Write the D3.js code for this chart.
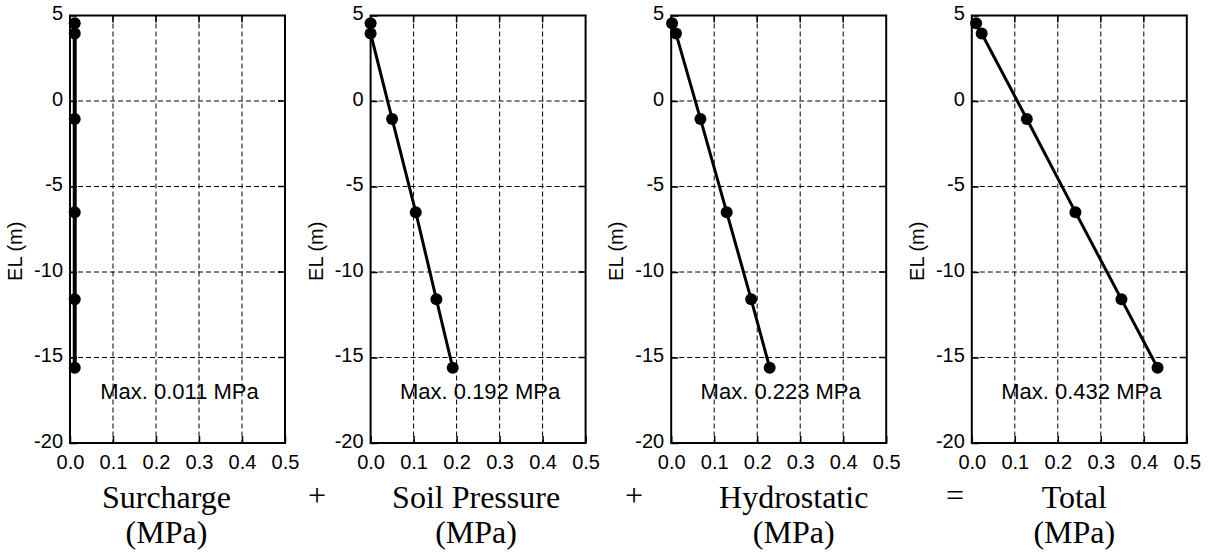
<!DOCTYPE html>
<html>
<head>
<meta charset="utf-8">
<script src="https://cdn.jsdelivr.net/npm/d3@7"></script>
<style>
  body { margin: 0; background: #fff; }
  svg { display: block; }
</style>
</head>
<body>
<svg id="chart" width="1208" height="558"></svg>
<script>
// elevations of the computed points (m)
const elevation = [4.55, 3.95, -1.05, -6.5, -11.6, -15.6];

// pressures (MPa) at each elevation
const surcharge = [0.011, 0.011, 0.011, 0.011, 0.011, 0.011];
const soilPressure = [0.0, 0.0, 0.05, 0.105, 0.153, 0.191];
const hydrostatic = [0.002, 0.011, 0.068, 0.129, 0.186, 0.229];
const total = [0.010, 0.023, 0.128, 0.241, 0.348, 0.432];

const panelNames = ["Surcharge", "Soil Pressure", "Hydrostatic", "Total"];
const maxLabels = ["Max. 0.011 MPa", "Max. 0.192 MPa", "Max. 0.223 MPa", "Max. 0.432 MPa"];
const operators = ["+", "+", "="];

const xTicks = [0, 0.1, 0.2, 0.3, 0.4, 0.5];
const yTicks = [5, 0, -5, -10, -15, -20];

const series = [surcharge, soilPressure, hydrostatic, total];

// layout
const left0 = 70, step = 300.6, plotW = 215;
const plotTop = 15.5, plotBottom = 443;
const nameShift = [-11, -2, 15, -5];
const opX = [317, 634, 955];
const fontAxis = "'Liberation Sans', Arial, sans-serif";
const fontSerif = "'Liberation Serif', 'Times New Roman', serif";

const svg = d3.select("#chart");

const y = d3.scaleLinear().domain([5, -20]).range([plotTop, plotBottom]);

series.forEach((vals, i) => {
    const x0 = left0 + i * step;
    const x = d3.scaleLinear().domain([0, 0.5]).range([x0, x0 + plotW]);
    const g = svg.append("g");

    // dashed grid
    g.selectAll("line.vgrid")
        .data(xTicks.slice(1, -1))
        .join("line")
        .attr("class", "vgrid")
        .attr("x1", d => x(d)).attr("x2", d => x(d))
        .attr("y1", plotTop).attr("y2", plotBottom)
        .attr("stroke", "#000").attr("stroke-width", 1)
        .attr("stroke-dasharray", "5,3");

    g.selectAll("line.hgrid")
        .data(yTicks.slice(1, -1))
        .join("line")
        .attr("class", "hgrid")
        .attr("x1", x0).attr("x2", x0 + plotW)
        .attr("y1", d => y(d)).attr("y2", d => y(d))
        .attr("stroke", "#000").attr("stroke-width", 1)
        .attr("stroke-dasharray", "5,3");

    // axes with inward ticks
    g.append("g")
        .attr("transform", `translate(0,${plotBottom})`)
        .call(d3.axisBottom(x).tickValues(xTicks).tickFormat(d3.format(".1f"))
            .tickSizeInner(-7).tickSizeOuter(0).tickPadding(12))
        .call(a => a.select(".domain").remove())
        .call(a => a.selectAll("line").attr("stroke-width", 1.5))
        .call(a => a.selectAll("text").attr("font-family", fontAxis)
            .attr("font-size", 20).attr("fill", "#000"));

    g.append("g")
        .attr("transform", `translate(${x0},0)`)
        .call(d3.axisLeft(y).tickValues(yTicks).tickFormat(d3.format("d"))
            .tickSizeInner(-7).tickSizeOuter(0).tickPadding(7))
        .call(a => a.select(".domain").remove())
        .call(a => a.selectAll("line").attr("stroke-width", 1.5))
        .call(a => a.selectAll("text").attr("font-family", fontAxis)
            .attr("font-size", 20).attr("fill", "#000").attr("dy", "0.2em"))
        .call(a => a.selectAll("text").text(d => d < 0 ? "-" + Math.abs(d) : d));

    // top and right inward ticks
    g.selectAll("line.tt")
        .data(xTicks.slice(1, -1))
        .join("line").attr("class", "tt")
        .attr("x1", d => x(d)).attr("x2", d => x(d))
        .attr("y1", plotTop).attr("y2", plotTop + 7)
        .attr("stroke", "#000").attr("stroke-width", 1.5);
    g.selectAll("line.rt")
        .data(yTicks.slice(1, -1))
        .join("line").attr("class", "rt")
        .attr("x1", x0 + plotW - 7).attr("x2", x0 + plotW)
        .attr("y1", d => y(d)).attr("y2", d => y(d))
        .attr("stroke", "#000").attr("stroke-width", 1.5);

    // frame
    g.append("rect")
        .attr("x", x0).attr("y", plotTop)
        .attr("width", plotW).attr("height", plotBottom - plotTop)
        .attr("fill", "none").attr("stroke", "#000").attr("stroke-width", 2);

    // y label
    g.append("text")
        .attr("transform", `translate(${x0 - 48},${(plotTop + plotBottom) / 2 + 22}) rotate(-90)`)
        .attr("text-anchor", "middle")
        .attr("font-family", fontAxis).attr("font-size", 20)
        .text("EL (m)");

    // profile
    const pts = vals.map((v, k) => [v, elevation[k]]);
    g.append("path")
        .datum(pts)
        .attr("d", d3.line().x(d => x(d[0])).y(d => y(d[1])))
        .attr("fill", "none").attr("stroke", "#000")
        .attr("stroke-width", i === 0 ? 4 : 3);

    g.selectAll("circle")
        .data(pts)
        .join("circle")
        .attr("cx", d => x(d[0])).attr("cy", d => y(d[1]))
        .attr("r", 6).attr("fill", "#000");

    // max annotation
    g.append("text")
        .attr("x", x0 + plotW / 2 + 2).attr("y", y(-17.4))
        .attr("text-anchor", "middle")
        .attr("font-family", fontAxis).attr("font-size", 22)
        .text(maxLabels[i]);

    // bottom caption
    const cx = x0 + plotW / 2 + nameShift[i];
    const cap = g.append("text")
        .attr("text-anchor", "middle")
        .attr("font-family", fontSerif)
        .attr("font-size", 32);
    cap.append("tspan").attr("x", cx).attr("y", 508).text(panelNames[i]);
    cap.append("tspan").attr("x", cx).attr("y", 543).text("(MPa)");
});

svg.selectAll("text.op")
    .data(operators)
    .join("text")
    .attr("class", "op")
    .attr("x", (d, i) => opX[i]).attr("y", 506)
    .attr("text-anchor", "middle")
    .attr("font-family", fontSerif)
    .attr("font-size", 32)
    .text(d => d);
</script>
</body>
</html>
